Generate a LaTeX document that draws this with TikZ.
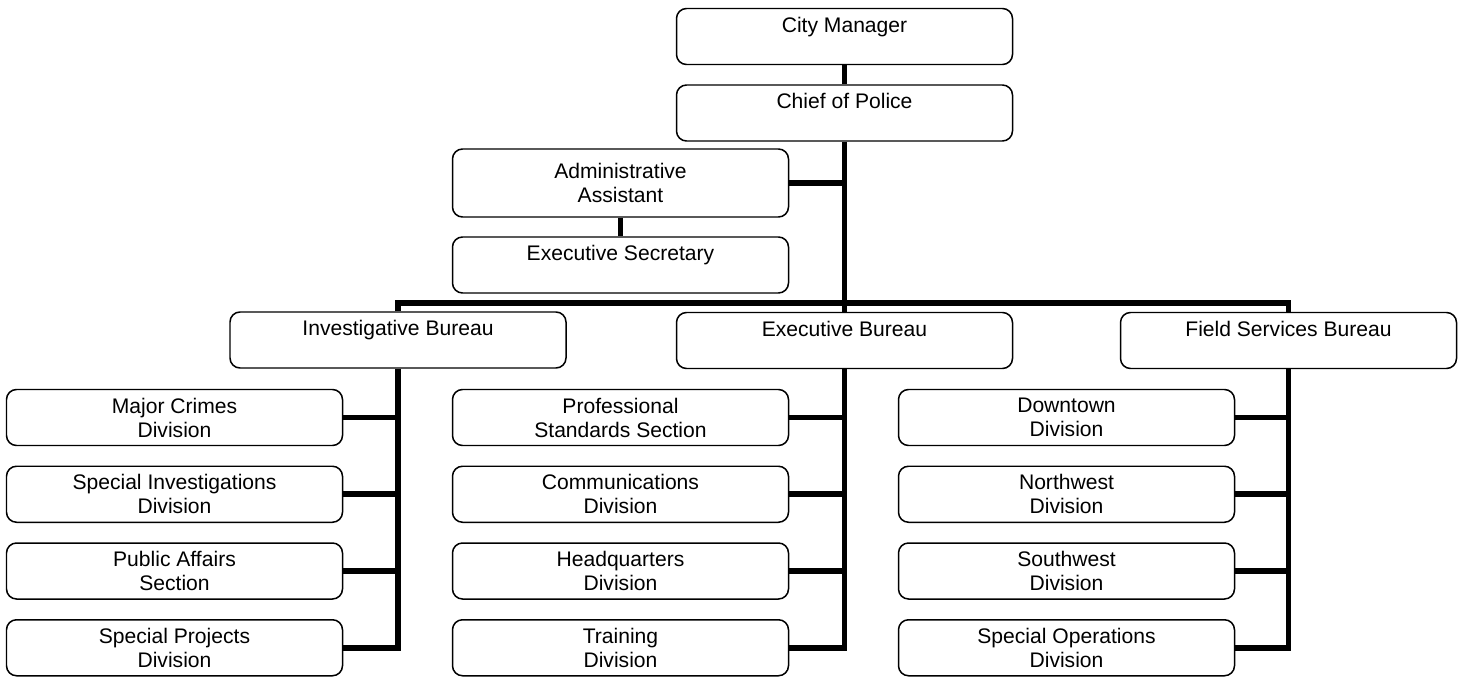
\documentclass[tikz,border=0pt]{standalone}
\usepackage{fontspec}
\setmainfont{Liberation Sans}

\tikzset{
  box/.style={draw, rounded corners=0.2cm, line width=0.85pt, fill=white,
    minimum width=6.72cm, minimum height=1.12cm, inner sep=0pt,
    align=center, font=\fontsize{12}{13.7}\selectfont},
  link/.style={line width=3.2pt}
}

\begin{document}
\begin{tikzpicture}[line join=miter]

\useasboundingbox (0,0) rectangle (29.26,-13.54);

% === NIVEL SUPERIOR ===
\node[box] (cityman) at (16.89,-0.73) {City Manager\\\mbox{}};
\node[box] (chief) at (16.89,-2.26) {Chief of Police\\\mbox{}};
\node[box, minimum height=1.36cm] (admin) at (12.41,-3.66) {Administrative\\Assistant};
\node[box] (secr) at (12.41,-5.30) {Executive Secretary\\\mbox{}};

% === BUREAUS ===
\node[box] (invbur) at (7.96,-6.80) {Investigative Bureau\\\mbox{}};
\node[box] (execbur) at (16.89,-6.81) {Executive Bureau\\\mbox{}};
\node[box] (fieldbur) at (25.77,-6.81) {Field Services Bureau\\\mbox{}};
\coordinate (bus) at (16.89,-6.06);

% === DIVISIONS ===
\foreach \nm/\txt [count=\i from 0] in {mcd/{Major Crimes\\Division},
    sid/{Special Investigations\\Division}, pas/{Public Affairs\\Section},
    spd/{Special Projects\\Division}}{
  \node[box] (\nm) at (3.49,-8.35-1.535*\i) {\txt};
}
\foreach \nm/\txt [count=\i from 0] in {pss/{Professional\\Standards Section},
    cod/{Communications\\Division}, hqd/{Headquarters\\Division},
    trd/{Training\\Division}}{
  \node[box] (\nm) at (12.41,-8.35-1.535*\i) {\txt};
}
\foreach \nm/\txt [count=\i from 0] in {dtd/{Downtown\\Division},
    nwd/{Northwest\\Division}, swd/{Southwest\\Division},
    sod/{Special Operations\\Division}}{
  \node[box] (\nm) at (21.33,-8.35-1.535*\i) {\txt};
}

% === CONEXIONES ===
\draw[link] (cityman) -- (chief);
\draw[link] (chief) -- (execbur);
\draw[link] (admin.east) -- (admin.east -| chief.south);
\draw[link] (admin) -- (secr);
\draw[link] (invbur.north) |- (bus) -| (fieldbur.north);

\draw[link] (invbur.south) |- (spd.east);
\foreach \nm in {mcd,sid,pas}
  \draw[link] (\nm.east) -- (\nm.east -| invbur.south);
\draw[link] (execbur.south) |- (trd.east);
\foreach \nm in {pss,cod,hqd}
  \draw[link] (\nm.east) -- (\nm.east -| execbur.south);
\draw[link] (fieldbur.south) |- (sod.east);
\foreach \nm in {dtd,nwd,swd}
  \draw[link] (\nm.east) -- (\nm.east -| fieldbur.south);

\end{tikzpicture}
\end{document}
